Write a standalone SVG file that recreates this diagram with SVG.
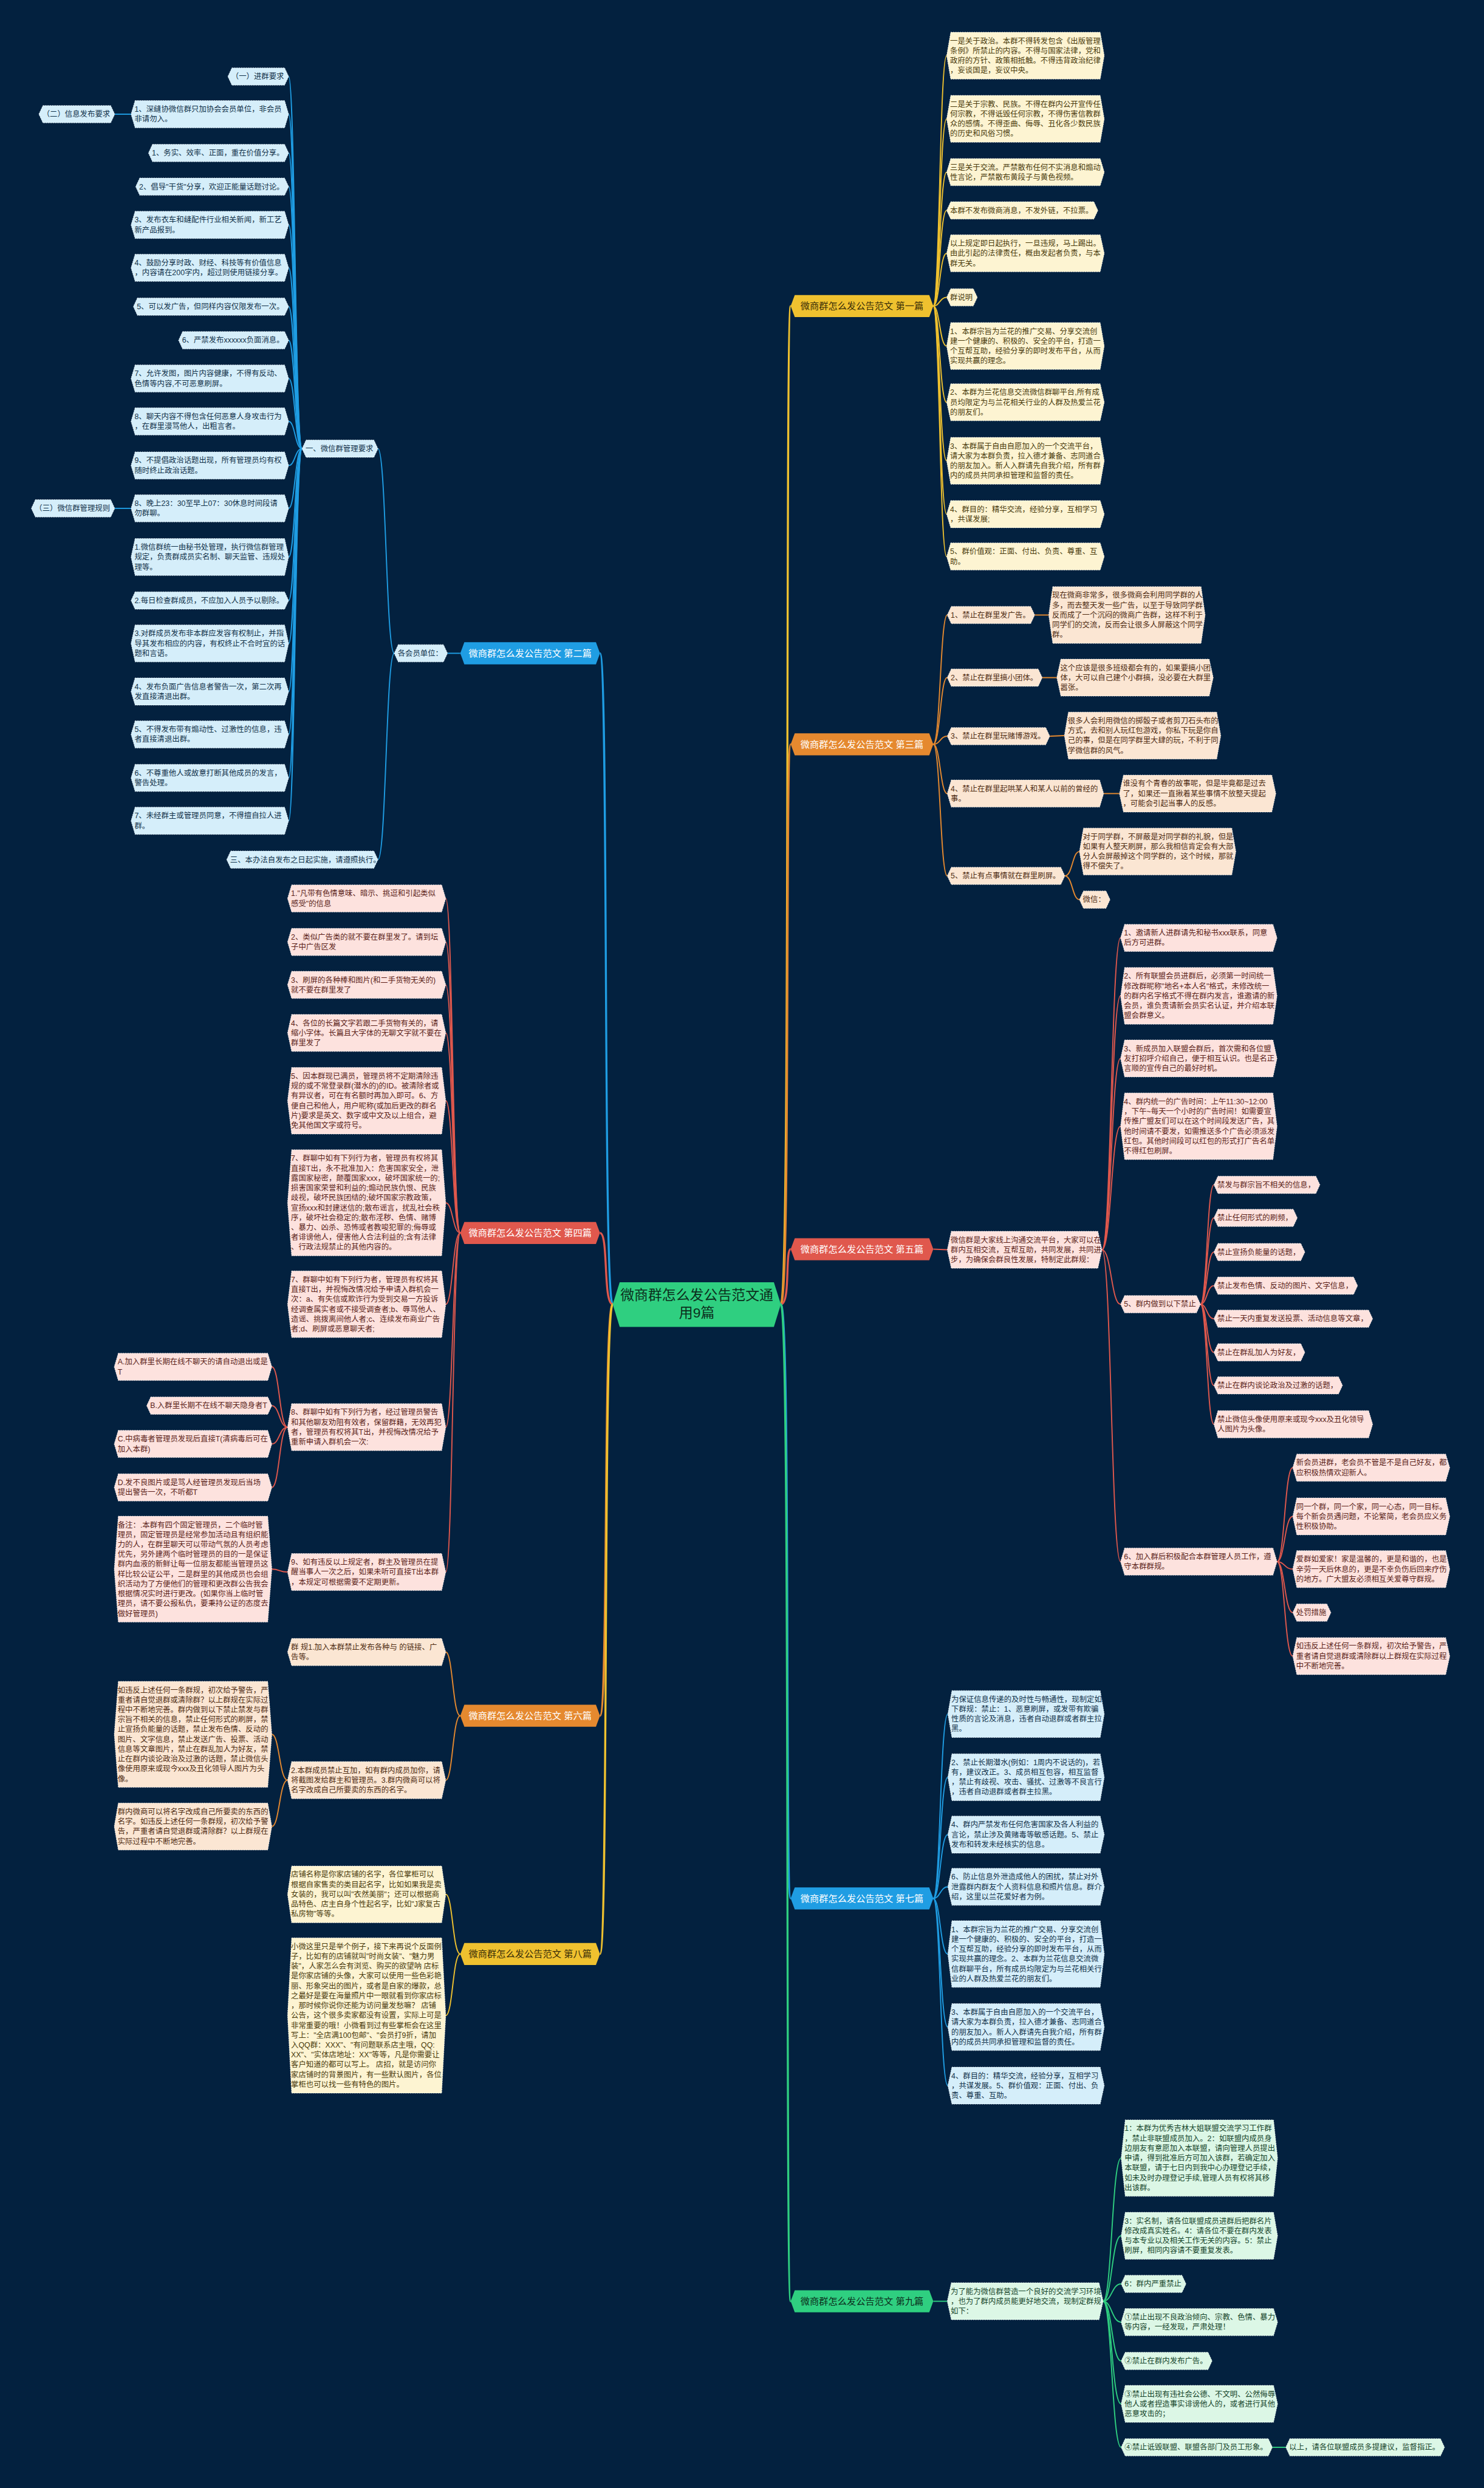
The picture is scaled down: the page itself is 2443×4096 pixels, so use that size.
<svg xmlns="http://www.w3.org/2000/svg" width="2443" height="4096" viewBox="0 0 2443 4096">
<style>
.t{font-family:"Liberation Sans","Noto Sans CJK SC",sans-serif;font-size:13px}
.bt{font-family:"Liberation Sans","Noto Sans CJK SC",sans-serif;font-size:16px;text-anchor:middle}
.ct{font-family:"Liberation Sans","Noto Sans CJK SC",sans-serif;font-size:24px;text-anchor:middle;fill:#0b2e1c}
.pb{fill:#d5eefa;stroke:#ffffff;stroke-opacity:.7;stroke-width:1;stroke-dasharray:2 2}
.pr{fill:#fde2de;stroke:#ffffff;stroke-opacity:.7;stroke-width:1;stroke-dasharray:2 2}
.po{fill:#fbe6d3;stroke:#ffffff;stroke-opacity:.7;stroke-width:1;stroke-dasharray:2 2}
.py{fill:#fdf4d2;stroke:#ffffff;stroke-opacity:.7;stroke-width:1;stroke-dasharray:2 2}
.pg{fill:#dcf7e6;stroke:#ffffff;stroke-opacity:.7;stroke-width:1;stroke-dasharray:2 2}
.cb{fill:#12324a}.cr{fill:#5c1f19}.co{fill:#4f2c12}.cy{fill:#4a3b0c}.cg{fill:#16452b}
.e{fill:none;stroke-width:2}
.m{fill:none;stroke-width:3.5}
.eb{stroke:#1f9de3}.er{stroke:#e0584d}.eo{stroke:#e5892f}.ey{stroke:#efc12f}.eg{stroke:#2fcf80}
</style>
<rect width="2443" height="4096" fill="#03213f"/>
<g transform="scale(0.9543)">
<g id="connectors">
<path class="m eb" d="M1057,2250 C1040,2250 1050,1127 1035,1127"/>
<path class="m er" d="M1057,2250 C1040,2250 1050,2127 1035,2127"/>
<path class="m eo" d="M1057,2250 C1040,2250 1050,2960 1035,2960"/>
<path class="m ey" d="M1057,2250 C1040,2250 1050,3371 1035,3371"/>
<path class="m ey" d="M1347,2250 C1364,2250 1354,528 1364,528"/>
<path class="m eo" d="M1347,2250 C1364,2250 1354,1284 1364,1284"/>
<path class="m er" d="M1347,2250 C1364,2250 1354,2155 1364,2155"/>
<path class="m eb" d="M1347,2250 C1364,2250 1354,3275 1364,3275"/>
<path class="m eg" d="M1347,2250 C1364,2250 1354,3970 1364,3970"/>
<path class="e eb" d="M794,1127 L772,1127"/>
<path class="e eb" d="M680,1127 C666,1127 666,774 652,774"/>
<path class="e eb" d="M680,1127 C666,1127 666,1483 652,1483"/>
<path class="e eb" d="M521,774 C509,774 509,132 498,132"/>
<path class="e eb" d="M521,774 C509,774 509,197 498,197"/>
<path class="e eb" d="M521,774 C509,774 509,264 498,264"/>
<path class="e eb" d="M521,774 C509,774 509,322 498,322"/>
<path class="e eb" d="M521,774 C509,774 509,388 498,388"/>
<path class="e eb" d="M521,774 C509,774 509,462 498,462"/>
<path class="e eb" d="M521,774 C509,774 509,529 498,529"/>
<path class="e eb" d="M521,774 C509,774 509,587 498,587"/>
<path class="e eb" d="M521,774 C509,774 509,653 498,653"/>
<path class="e eb" d="M521,774 C509,774 509,727 498,727"/>
<path class="e eb" d="M521,774 C509,774 509,803 498,803"/>
<path class="e eb" d="M521,774 C509,774 509,877 498,877"/>
<path class="e eb" d="M521,774 C509,774 509,961 498,961"/>
<path class="e eb" d="M521,774 C509,774 509,1036 498,1036"/>
<path class="e eb" d="M521,774 C509,774 509,1110 498,1110"/>
<path class="e eb" d="M521,774 C509,774 509,1193 498,1193"/>
<path class="e eb" d="M521,774 C509,774 509,1267 498,1267"/>
<path class="e eb" d="M521,774 C509,774 509,1342 498,1342"/>
<path class="e eb" d="M521,774 C509,774 509,1416 498,1416"/>
<path class="e eb" d="M226,197 L198,197"/>
<path class="e eb" d="M226,877 L198,877"/>
<path class="e er" d="M794,2127 C781,2127 781,1550 769,1550"/>
<path class="e er" d="M794,2127 C781,2127 781,1625 769,1625"/>
<path class="e er" d="M794,2127 C781,2127 781,1699 769,1699"/>
<path class="e er" d="M794,2127 C781,2127 781,1782 769,1782"/>
<path class="e er" d="M794,2127 C781,2127 781,1899 769,1899"/>
<path class="e er" d="M794,2127 C781,2127 781,2075 769,2075"/>
<path class="e er" d="M794,2127 C781,2127 781,2250 769,2250"/>
<path class="e er" d="M794,2127 C781,2127 781,2462 769,2462"/>
<path class="e er" d="M794,2127 C781,2127 781,2712 769,2712"/>
<path class="e er" d="M496,2462 C482,2462 482,2358 469,2358"/>
<path class="e er" d="M496,2462 C482,2462 482,2425 469,2425"/>
<path class="e er" d="M496,2462 C482,2462 482,2491 469,2491"/>
<path class="e er" d="M496,2462 C482,2462 482,2566 469,2566"/>
<path class="e er" d="M496,2712 C482,2712 482,2707 469,2707"/>
<path class="e eo" d="M794,2960 C781,2960 781,2850 769,2850"/>
<path class="e eo" d="M794,2960 C781,2960 781,3071 769,3071"/>
<path class="e eo" d="M496,3071 C482,3071 482,2992 469,2992"/>
<path class="e eo" d="M496,3071 C482,3071 482,3151 469,3151"/>
<path class="e ey" d="M794,3371 C781,3371 781,3268 769,3268"/>
<path class="e ey" d="M794,3371 C781,3371 781,3477 769,3477"/>
<path class="e ey" d="M1610,528 C1621,528 1621,96 1633,96"/>
<path class="e ey" d="M1610,528 C1621,528 1621,205 1633,205"/>
<path class="e ey" d="M1610,528 C1621,528 1621,297 1633,297"/>
<path class="e ey" d="M1610,528 C1621,528 1621,363 1633,363"/>
<path class="e ey" d="M1610,528 C1621,528 1621,437 1633,437"/>
<path class="e ey" d="M1610,528 C1621,528 1621,513 1633,513"/>
<path class="e ey" d="M1610,528 C1621,528 1621,597 1633,597"/>
<path class="e ey" d="M1610,528 C1621,528 1621,694 1633,694"/>
<path class="e ey" d="M1610,528 C1621,528 1621,795 1633,795"/>
<path class="e ey" d="M1610,528 C1621,528 1621,887 1633,887"/>
<path class="e ey" d="M1610,528 C1621,528 1621,960 1633,960"/>
<path class="e eo" d="M1610,1284 C1622,1284 1622,1061 1634,1061"/>
<path class="e eo" d="M1610,1284 C1622,1284 1622,1169 1634,1169"/>
<path class="e eo" d="M1610,1284 C1622,1284 1622,1270 1634,1270"/>
<path class="e eo" d="M1610,1284 C1622,1284 1622,1369 1634,1369"/>
<path class="e eo" d="M1610,1284 C1622,1284 1622,1511 1634,1511"/>
<path class="e eo" d="M1785,1061 L1809,1061"/>
<path class="e eo" d="M1798,1169 L1823,1169"/>
<path class="e eo" d="M1811,1270 L1836,1269"/>
<path class="e eo" d="M1904,1369 L1931,1369"/>
<path class="e eo" d="M1837,1511 C1850,1511 1850,1469 1862,1469"/>
<path class="e eo" d="M1837,1511 C1850,1511 1850,1552 1862,1552"/>
<path class="e er" d="M1610,2155 L1634,2156"/>
<path class="e er" d="M1901,2156 C1917,2156 1917,1618 1933,1618"/>
<path class="e er" d="M1901,2156 C1917,2156 1917,1718 1933,1718"/>
<path class="e er" d="M1901,2156 C1917,2156 1917,1826 1933,1826"/>
<path class="e er" d="M1901,2156 C1917,2156 1917,1943 1933,1943"/>
<path class="e er" d="M1901,2156 C1917,2156 1917,2250 1933,2250"/>
<path class="e er" d="M1901,2156 C1917,2156 1917,2694 1933,2694"/>
<path class="e er" d="M2071,2250 C2082,2250 2082,2044 2094,2044"/>
<path class="e er" d="M2071,2250 C2082,2250 2082,2101 2094,2101"/>
<path class="e er" d="M2071,2250 C2082,2250 2082,2160 2094,2160"/>
<path class="e er" d="M2071,2250 C2082,2250 2082,2218 2094,2218"/>
<path class="e er" d="M2071,2250 C2082,2250 2082,2275 2094,2275"/>
<path class="e er" d="M2071,2250 C2082,2250 2082,2333 2094,2333"/>
<path class="e er" d="M2071,2250 C2082,2250 2082,2390 2094,2390"/>
<path class="e er" d="M2071,2250 C2082,2250 2082,2457 2094,2457"/>
<path class="e er" d="M2203,2694 C2216,2694 2216,2532 2230,2532"/>
<path class="e er" d="M2203,2694 C2216,2694 2216,2616 2230,2616"/>
<path class="e er" d="M2203,2694 C2216,2694 2216,2707 2230,2707"/>
<path class="e er" d="M2203,2694 C2216,2694 2216,2782 2230,2782"/>
<path class="e er" d="M2203,2694 C2216,2694 2216,2857 2230,2857"/>
<path class="e eb" d="M1610,3275 C1622,3275 1622,2957 1635,2957"/>
<path class="e eb" d="M1610,3275 C1622,3275 1622,3066 1635,3066"/>
<path class="e eb" d="M1610,3275 C1622,3275 1622,3165 1635,3165"/>
<path class="e eb" d="M1610,3275 C1622,3275 1622,3255 1635,3255"/>
<path class="e eb" d="M1610,3275 C1622,3275 1622,3371 1635,3371"/>
<path class="e eb" d="M1610,3275 C1622,3275 1622,3497 1635,3497"/>
<path class="e eb" d="M1610,3275 C1622,3275 1622,3598 1635,3598"/>
<path class="e eg" d="M1610,3970 L1634,3970"/>
<path class="e eg" d="M1903,3970 C1918,3970 1918,3723 1934,3723"/>
<path class="e eg" d="M1903,3970 C1918,3970 1918,3857 1934,3857"/>
<path class="e eg" d="M1903,3970 C1918,3970 1918,3940 1934,3940"/>
<path class="e eg" d="M1903,3970 C1918,3970 1918,4006 1934,4006"/>
<path class="e eg" d="M1903,3970 C1918,3970 1918,4073 1934,4073"/>
<path class="e eg" d="M1903,3970 C1918,3970 1918,4147 1934,4147"/>
<path class="e eg" d="M1903,3970 C1918,3970 1918,4222 1934,4222"/>
<path class="e eg" d="M2195,4222 L2218,4222"/>
</g>

<g id="center"><polygon points="1069,2212 1335,2212 1347,2250 1335,2289 1069,2289 1057,2250" fill="#2fcf80"/><text class="ct" x="1202" y="2243">微商群怎么发公告范文通</text><text class="ct" x="1202" y="2273">用9篇</text></g>

<g id="b2"><polygon points="801,1108 1028,1108 1035,1127 1028,1146 801,1146 794,1127" fill="#1f9de3"/><text class="bt" x="914.5" y="1132.5" fill="#ffffff">微商群怎么发公告范文 第二篇</text></g>
<g id="b4"><polygon points="801,2108 1028,2108 1035,2127 1028,2146 801,2146 794,2127" fill="#e0584d"/><text class="bt" x="914.5" y="2132.5" fill="#ffffff">微商群怎么发公告范文 第四篇</text></g>
<g id="b6"><polygon points="801,2941 1028,2941 1035,2960 1028,2979 801,2979 794,2960" fill="#e5892f"/><text class="bt" x="914.5" y="2965.5" fill="#ffffff">微商群怎么发公告范文 第六篇</text></g>
<g id="b8"><polygon points="801,3352 1028,3352 1035,3371 1028,3390 801,3390 794,3371" fill="#efc12f"/><text class="bt" x="914.5" y="3376.5" fill="#3a2e08">微商群怎么发公告范文 第八篇</text></g>
<g id="b1"><polygon points="1371,509 1603,509 1610,528 1603,547 1371,547 1364,528" fill="#efc12f"/><text class="bt" x="1487" y="533.5" fill="#3a2e08">微商群怎么发公告范文 第一篇</text></g>
<g id="b3"><polygon points="1371,1265 1603,1265 1610,1284 1603,1303 1371,1303 1364,1284" fill="#e5892f"/><text class="bt" x="1487" y="1289.5" fill="#ffffff">微商群怎么发公告范文 第三篇</text></g>
<g id="b5"><polygon points="1371,2136 1603,2136 1610,2155 1603,2174 1371,2174 1364,2155" fill="#e0584d"/><text class="bt" x="1487" y="2160.5" fill="#ffffff">微商群怎么发公告范文 第五篇</text></g>
<g id="b7"><polygon points="1371,3256 1603,3256 1610,3275 1603,3294 1371,3294 1364,3275" fill="#1f9de3"/><text class="bt" x="1487" y="3280.5" fill="#ffffff">微商群怎么发公告范文 第七篇</text></g>
<g id="b9"><polygon points="1371,3951 1603,3951 1610,3970 1603,3989 1371,3989 1364,3970" fill="#2fcf80"/><text class="bt" x="1487" y="3975.5" fill="#0b2e1c">微商群怎么发公告范文 第九篇</text></g>

<g id="n2a"><polygon class="pb" points="687,1112 765,1112 772,1127 765,1142 687,1142 680,1127"/><text class="t cb" x="686" y="1131.5">各会员单位：</text></g>
<g id="n2b"><polygon class="pb" points="528,759 645,759 652,774 645,789 528,789 521,774"/><text class="t cb" x="527" y="778.5">一、微信群管理要求</text></g>
<g id="n2c"><polygon class="pb" points="398,1468 645,1468 652,1483 645,1498 398,1498 391,1483"/><text class="t cb" x="397" y="1487.5">三、本办法自发布之日起实施，请遵照执行。</text></g>
<g id="l1"><polygon class="pb" points="400,117 491,117 498,132 491,147 400,147 393,132"/><text class="t cb" x="399" y="136.5">（一）进群要求</text></g>
<g id="l2"><polygon class="pb" points="233,173.5 491,173.5 498,197 491,220.5 233,220.5 226,197"/><text class="t cb" y="193"><tspan x="232">1、深缝协微信群只加协会会员单位，非会员</tspan><tspan x="232" dy="17">非请勿入。</tspan></text></g>
<g id="l2c"><polygon class="pb" points="74,182 191,182 198,197 191,212 74,212 67,197"/><text class="t cb" x="73" y="201.5">（二）信息发布要求</text></g>
<g id="l3"><polygon class="pb" points="263,249 491,249 498,264 491,279 263,279 256,264"/><text class="t cb" x="262" y="268.5">1、务实、效率、正面，重在价值分享。</text></g>
<g id="l4"><polygon class="pb" points="241,307 491,307 498,322 491,337 241,337 234,322"/><text class="t cb" x="240" y="326.5">2、倡导"干货"分享，欢迎正能量话题讨论。</text></g>
<g id="l5"><polygon class="pb" points="233,364.5 491,364.5 498,388 491,411.5 233,411.5 226,388"/><text class="t cb" y="384"><tspan x="232">3、发布衣车和缝配件行业相关新闻，新工艺</tspan><tspan x="232" dy="17">新产品报到。</tspan></text></g>
<g id="l6"><polygon class="pb" points="233,438.5 491,438.5 498,462 491,485.5 233,485.5 226,462"/><text class="t cb" y="458"><tspan x="232">4、鼓励分享时政、财经、科技等有价值信息</tspan><tspan x="232" dy="17">，内容请在200字内，超过则使用链接分享。</tspan></text></g>
<g id="l7"><polygon class="pb" points="237,514 491,514 498,529 491,544 237,544 230,529"/><text class="t cb" x="236" y="533.5">5、可以发广告，但同样内容仅限发布一次。</text></g>
<g id="l8"><polygon class="pb" points="315,572 491,572 498,587 491,602 315,602 308,587"/><text class="t cb" x="314" y="591.5">6、严禁发布xxxxxx负面消息。</text></g>
<g id="l9"><polygon class="pb" points="233,629.5 491,629.5 498,653 491,676.5 233,676.5 226,653"/><text class="t cb" y="649"><tspan x="232">7、允许发图，图片内容健康，不得有反动、</tspan><tspan x="232" dy="17">色情等内容,不可恶意刷屏。</tspan></text></g>
<g id="l10"><polygon class="pb" points="233,703.5 491,703.5 498,727 491,750.5 233,750.5 226,727"/><text class="t cb" y="723"><tspan x="232">8、聊天内容不得包含任何恶意人身攻击行为</tspan><tspan x="232" dy="17">，在群里漫骂他人，出粗言者。</tspan></text></g>
<g id="l11"><polygon class="pb" points="233,779.5 491,779.5 498,803 491,826.5 233,826.5 226,803"/><text class="t cb" y="799"><tspan x="232">9、不提倡政治话题出现，所有管理员均有权</tspan><tspan x="232" dy="17">随时终止政治话题。</tspan></text></g>
<g id="l12"><polygon class="pb" points="233,853.5 491,853.5 498,877 491,900.5 233,900.5 226,877"/><text class="t cb" y="873"><tspan x="232">8、晚上23：30至早上07：30休息时间段请</tspan><tspan x="232" dy="17">勿群聊。</tspan></text></g>
<g id="l12c"><polygon class="pb" points="61,862 191,862 198,877 191,892 61,892 54,877"/><text class="t cb" x="60" y="881.5">（三）微信群管理规则</text></g>
<g id="l13"><polygon class="pb" points="233,929 491,929 498,961 491,993 233,993 226,961"/><text class="t cb" y="948.5"><tspan x="232">1.微信群统一由秘书处管理，执行微信群管理</tspan><tspan x="232" dy="17">规定，负责群成员实名制、聊天监管、违规处</tspan><tspan x="232" dy="17">理等。</tspan></text></g>
<g id="l14"><polygon class="pb" points="233,1021 491,1021 498,1036 491,1051 233,1051 226,1036"/><text class="t cb" x="232" y="1040.5">2.每日检查群成员，不应加入人员予以剔除。</text></g>
<g id="l15"><polygon class="pb" points="233,1078 491,1078 498,1110 491,1142 233,1142 226,1110"/><text class="t cb" y="1097.5"><tspan x="232">3.对群成员发布非本群应发容有权制止，并指</tspan><tspan x="232" dy="17">导其发布相应的内容，有权终止不合时宜的话</tspan><tspan x="232" dy="17">题和言语。</tspan></text></g>
<g id="l16"><polygon class="pb" points="233,1169.5 491,1169.5 498,1193 491,1216.5 233,1216.5 226,1193"/><text class="t cb" y="1189"><tspan x="232">4、发布负面广告信息者警告一次，第二次再</tspan><tspan x="232" dy="17">发直接清退出群。</tspan></text></g>
<g id="l17"><polygon class="pb" points="233,1243.5 491,1243.5 498,1267 491,1290.5 233,1290.5 226,1267"/><text class="t cb" y="1263"><tspan x="232">5、不得发布带有煽动性、过激性的信息，违</tspan><tspan x="232" dy="17">者直接清退出群。</tspan></text></g>
<g id="l18"><polygon class="pb" points="233,1318.5 491,1318.5 498,1342 491,1365.5 233,1365.5 226,1342"/><text class="t cb" y="1338"><tspan x="232">6、不尊重他人或故意打断其他成员的发言，</tspan><tspan x="232" dy="17">警告处理。</tspan></text></g>
<g id="l19"><polygon class="pb" points="233,1392.5 491,1392.5 498,1416 491,1439.5 233,1439.5 226,1416"/><text class="t cb" y="1412"><tspan x="232">7、未经群主或管理员同意，不得擅自拉人进</tspan><tspan x="232" dy="17">群。</tspan></text></g>

<g id="r1"><polygon class="pr" points="503,1526.5 762,1526.5 769,1550 762,1573.5 503,1573.5 496,1550"/><text class="t cr" y="1546"><tspan x="502">1."凡带有色情意味、暗示、挑逗和引起类似</tspan><tspan x="502" dy="17">感受"的信息</tspan></text></g>
<g id="r2"><polygon class="pr" points="503,1601.5 762,1601.5 769,1625 762,1648.5 503,1648.5 496,1625"/><text class="t cr" y="1621"><tspan x="502">2、类似广告类的就不要在群里发了。请到坛</tspan><tspan x="502" dy="17">子中广告区发</tspan></text></g>
<g id="r3"><polygon class="pr" points="503,1675.5 762,1675.5 769,1699 762,1722.5 503,1722.5 496,1699"/><text class="t cr" y="1695"><tspan x="502">3、刷屏的各种棒和图片(和二手货物无关的)</tspan><tspan x="502" dy="17">就不要在群里发了</tspan></text></g>
<g id="r4"><polygon class="pr" points="503,1750 762,1750 769,1782 762,1814 503,1814 496,1782"/><text class="t cr" y="1769.5"><tspan x="502">4、各位的长篇文字若跟二手货物有关的，请</tspan><tspan x="502" dy="17">缩小字体。长篇且大字体的无聊文字就不要在</tspan><tspan x="502" dy="17">群里发了</tspan></text></g>
<g id="r5"><polygon class="pr" points="503,1841.5 762,1841.5 769,1899 762,1956.5 503,1956.5 496,1899"/><text class="t cr" y="1861"><tspan x="502">5、因本群现已满员，管理员将不定期清除违</tspan><tspan x="502" dy="17">规的或不常登录群(潜水的)的ID。被清除者或</tspan><tspan x="502" dy="17">有异议者，可在有名额时再加入即可。6、方</tspan><tspan x="502" dy="17">便自己和他人，用户昵称(或加后更改的群名</tspan><tspan x="502" dy="17">片)要求是英文、数字或中文及以上组合，避</tspan><tspan x="502" dy="17">免其他国文字或符号。</tspan></text></g>
<g id="r6"><polygon class="pr" points="503,1983.5 762,1983.5 769,2075 762,2166.5 503,2166.5 496,2075"/><text class="t cr" y="2003"><tspan x="502">7、群聊中如有下列行为者，管理员有权将其</tspan><tspan x="502" dy="17">直接T出，永不批准加入：危害国家安全，泄</tspan><tspan x="502" dy="17">露国家秘密，颠覆国家xxx，破坏国家统一的;</tspan><tspan x="502" dy="17">损害国家荣誉和利益的;煽动民族仇恨、民族</tspan><tspan x="502" dy="17">歧视，破坏民族团结的;破坏国家宗教政策，</tspan><tspan x="502" dy="17">宣扬xxx和封建迷信的;散布谣言，扰乱社会秩</tspan><tspan x="502" dy="17">序，破坏社会稳定的;散布淫秽、色情、赌博</tspan><tspan x="502" dy="17">、暴力、凶杀、恐怖或者教唆犯罪的;侮辱或</tspan><tspan x="502" dy="17">者诽谤他人，侵害他人合法利益的;含有法律</tspan><tspan x="502" dy="17">、行政法规禁止的其他内容的。</tspan></text></g>
<g id="r7"><polygon class="pr" points="503,2192.5 762,2192.5 769,2250 762,2307.5 503,2307.5 496,2250"/><text class="t cr" y="2212"><tspan x="502">7、群聊中如有下列行为者，管理员有权将其</tspan><tspan x="502" dy="17">直接T出，并视悔改情况给予申请入群机会一</tspan><tspan x="502" dy="17">次：a、有失信或欺诈行为受到交易一方投诉</tspan><tspan x="502" dy="17">经调查属实者或不接受调查者;b、辱骂他人、</tspan><tspan x="502" dy="17">造谣、挑拨离间他人者;c、连续发布商业广告</tspan><tspan x="502" dy="17">者;d、刷屏或恶意聊天者;</tspan></text></g>
<g id="r8"><polygon class="pr" points="503,2421.5 762,2421.5 769,2462 762,2502.5 503,2502.5 496,2462"/><text class="t cr" y="2441"><tspan x="502">8、群聊中如有下列行为者，经过管理员警告</tspan><tspan x="502" dy="17">和其他聊友劝阻有效者，保留群籍，无效再犯</tspan><tspan x="502" dy="17">者，管理员有权将其T出，并视悔改情况给予</tspan><tspan x="502" dy="17">重新申请入群机会一次:</tspan></text></g>
<g id="r8a"><polygon class="pr" points="204,2334.5 462,2334.5 469,2358 462,2381.5 204,2381.5 197,2358"/><text class="t cr" y="2354"><tspan x="203">A.加入群里长期在线不聊天的请自动退出或是</tspan><tspan x="203" dy="17">T</tspan></text></g>
<g id="r8b"><polygon class="pr" points="260,2410 462,2410 469,2425 462,2440 260,2440 253,2425"/><text class="t cr" x="259" y="2429.5">B.入群里长期不在线不聊天隐身者T</text></g>
<g id="r8c"><polygon class="pr" points="204,2467.5 462,2467.5 469,2491 462,2514.5 204,2514.5 197,2491"/><text class="t cr" y="2487"><tspan x="203">C.中病毒者管理员发现后直接T(清病毒后可在</tspan><tspan x="203" dy="17">加入本群)</tspan></text></g>
<g id="r8d"><polygon class="pr" points="204,2542.5 462,2542.5 469,2566 462,2589.5 204,2589.5 197,2566"/><text class="t cr" y="2562"><tspan x="203">D.发不良图片或是骂人经管理员发现后当场</tspan><tspan x="203" dy="17">提出警告一次，不听都T</tspan></text></g>
<g id="r9"><polygon class="pr" points="503,2680 762,2680 769,2712 762,2744 503,2744 496,2712"/><text class="t cr" y="2699.5"><tspan x="502">9、如有违反以上规定者，群主及管理员在提</tspan><tspan x="502" dy="17">醒当事人一次之后，如果未听可直接T出本群</tspan><tspan x="502" dy="17">，本规定可根据需要不定期更新。</tspan></text></g>
<g id="r9a"><polygon class="pr" points="204,2615.5 462,2615.5 469,2707 462,2798.5 204,2798.5 197,2707"/><text class="t cr" y="2635"><tspan x="203">备注：.本群有四个固定管理员，二个临时管</tspan><tspan x="203" dy="17">理员，固定管理员是经常参加活动且有组织能</tspan><tspan x="203" dy="17">力的人，在群里聊天可以带动气氛的人员考虑</tspan><tspan x="203" dy="17">优先，另外建两个临时管理员的目的一是保证</tspan><tspan x="203" dy="17">群内血液的新鲜让每一位朋友都能当管理员这</tspan><tspan x="203" dy="17">样比较公证公平，二是群里的其他成员也会组</tspan><tspan x="203" dy="17">织活动为了方便他们的管理和更改群公告我会</tspan><tspan x="203" dy="17">根据情况实时进行更改。(如果你当上临时管</tspan><tspan x="203" dy="17">理员，请不要公报私仇，要秉持公证的态度去</tspan><tspan x="203" dy="17">做好管理员)</tspan></text></g>

<g id="o1"><polygon class="po" points="503,2826.5 762,2826.5 769,2850 762,2873.5 503,2873.5 496,2850"/><text class="t co" y="2846"><tspan x="502"> 群 规1.加入本群禁止发布各种与 的链接、广</tspan><tspan x="502" dy="17">告等。</tspan></text></g>
<g id="o2"><polygon class="po" points="503,3039 762,3039 769,3071 762,3103 503,3103 496,3071"/><text class="t co" y="3058.5"><tspan x="502">2.本群成员禁止互加，如有群内成员加你，请</tspan><tspan x="502" dy="17">将截图发给群主和管理员。3.群内微商可以将</tspan><tspan x="502" dy="17">名字改成自己所要卖的东西的名字。</tspan></text></g>
<g id="o2a"><polygon class="po" points="204,2900.5 462,2900.5 469,2992 462,3083.5 204,3083.5 197,2992"/><text class="t co" y="2920"><tspan x="203">如违反上述任何一条群规，初次给予警告，严</tspan><tspan x="203" dy="17">重者请自觉退群或清除群？以上群规在实际过</tspan><tspan x="203" dy="17">程中不断地完善。群内做到以下禁止禁发与群</tspan><tspan x="203" dy="17">宗旨不相关的信息，禁止任何形式的刷屏，禁</tspan><tspan x="203" dy="17">止宣扬负能量的话题，禁止发布色情、反动的</tspan><tspan x="203" dy="17">图片、文字信息，禁止发送广告、投票、活动</tspan><tspan x="203" dy="17">信息等文章图片，禁止在群乱加人为好友，禁</tspan><tspan x="203" dy="17">止在群内谈论政治及过激的话题，禁止微信头</tspan><tspan x="203" dy="17">像使用原来或现今xxx及丑化领导人图片为头</tspan><tspan x="203" dy="17">像。</tspan></text></g>
<g id="o2b"><polygon class="po" points="204,3110.5 462,3110.5 469,3151 462,3191.5 204,3191.5 197,3151"/><text class="t co" y="3130"><tspan x="203">群内微商可以将名字改成自己所要卖的东西的</tspan><tspan x="203" dy="17">名字。如违反上述任何一条群规，初次给予警</tspan><tspan x="203" dy="17">告，严重者请自觉退群或清除群？以上群规在</tspan><tspan x="203" dy="17">实际过程中不断地完善。</tspan></text></g>

<g id="y1"><polygon class="py" points="503,3219 762,3219 769,3268 762,3317 503,3317 496,3268"/><text class="t cy" y="3238.5"><tspan x="502"> 店铺名称是你家店铺的名字，各位掌柜可以</tspan><tspan x="502" dy="17">根据自家售卖的类目起名字，比如如果我是卖</tspan><tspan x="502" dy="17">女装的，我可以叫"衣然美丽"；还可以根据商</tspan><tspan x="502" dy="17">品特色、店主自身个性起名字，比如"J家复古</tspan><tspan x="502" dy="17">私房物"等等。</tspan></text></g>
<g id="y2"><polygon class="py" points="503,3343 762,3343 769,3477 762,3611 503,3611 496,3477"/><text class="t cy" y="3362.5"><tspan x="502">小微这里只是举个例子，接下来再说个反面例</tspan><tspan x="502" dy="17">子，比如有的店铺就叫"时尚女装"、"魅力男</tspan><tspan x="502" dy="17">装"，人家怎么会有浏览、购买的欲望呐 店标</tspan><tspan x="502" dy="17">是你家店铺的头像，大家可以使用一些色彩艳</tspan><tspan x="502" dy="17">丽、形象突出的图片，或者是自家的爆款，总</tspan><tspan x="502" dy="17">之最好是要在海量照片中一眼就看到你家店标</tspan><tspan x="502" dy="17">，那时候你说你还能为访问量发愁嘛？ 店铺</tspan><tspan x="502" dy="17">公告，这个很多卖家都没有设置，实际上可是</tspan><tspan x="502" dy="17">非常重要的哦！小微看到过有些掌柜会在这里</tspan><tspan x="502" dy="17">写上："全店满100包邮"、"会员打9折，请加</tspan><tspan x="502" dy="17">入QQ群：XXX"、"有问题联系店主哦，QQ:</tspan><tspan x="502" dy="17">XX"、"实体店地址：XX"等等，凡是你需要让</tspan><tspan x="502" dy="17">客户知道的都可以写上。 店招，就是访问你</tspan><tspan x="502" dy="17">家店铺时的背景图片，有一些默认图片，各位</tspan><tspan x="502" dy="17">掌柜也可以找一些有特色的图片。</tspan></text></g>

<g id="a1"><polygon class="py" points="1640,55.5 1898,55.5 1905,96 1898,136.5 1640,136.5 1633,96"/><text class="t cy" y="75"><tspan x="1639">一是关于政治。本群不得转发包含《出版管理</tspan><tspan x="1639" dy="17">条例》所禁止的内容。不得与国家法律，党和</tspan><tspan x="1639" dy="17">政府的方针、政策相抵触。不得违背政治纪律</tspan><tspan x="1639" dy="17">，妄谈国是，妄议中央。</tspan></text></g>
<g id="a2"><polygon class="py" points="1640,164.5 1898,164.5 1905,205 1898,245.5 1640,245.5 1633,205"/><text class="t cy" y="184"><tspan x="1639">二是关于宗教、民族。不得在群内公开宣传任</tspan><tspan x="1639" dy="17">何宗教，不得诋毁任何宗教，不得伤害信教群</tspan><tspan x="1639" dy="17">众的感情。不得歪曲、侮辱、丑化各少数民族</tspan><tspan x="1639" dy="17">的历史和风俗习惯。</tspan></text></g>
<g id="a3"><polygon class="py" points="1640,273.5 1898,273.5 1905,297 1898,320.5 1640,320.5 1633,297"/><text class="t cy" y="293"><tspan x="1639">三是关于交流。严禁散布任何不实消息和煽动</tspan><tspan x="1639" dy="17">性言论，严禁散布黄段子与黄色视频。</tspan></text></g>
<g id="a4"><polygon class="py" points="1640,348 1887,348 1894,363 1887,378 1640,378 1633,363"/><text class="t cy" x="1639" y="367.5">本群不发布微商消息，不发外链，不拉票。</text></g>
<g id="a5"><polygon class="py" points="1640,405 1898,405 1905,437 1898,469 1640,469 1633,437"/><text class="t cy" y="424.5"><tspan x="1639">以上规定即日起执行，一旦违规，马上踢出。</tspan><tspan x="1639" dy="17">由此引起的法律责任，概由发起者负责，与本</tspan><tspan x="1639" dy="17">群无关。</tspan></text></g>
<g id="a6"><polygon class="py" points="1640,498 1679,498 1686,513 1679,528 1640,528 1633,513"/><text class="t cy" x="1639" y="517.5">群说明</text></g>
<g id="a7"><polygon class="py" points="1640,556.5 1898,556.5 1905,597 1898,637.5 1640,637.5 1633,597"/><text class="t cy" y="576"><tspan x="1639">1、本群宗旨为兰花的推广交易、分享交流创</tspan><tspan x="1639" dy="17">建一个健康的、积极的、安全的平台，打造一</tspan><tspan x="1639" dy="17">个互帮互助，经验分享的即时发布平台，从而</tspan><tspan x="1639" dy="17">实现共赢的理念。</tspan></text></g>
<g id="a8"><polygon class="py" points="1640,662 1898,662 1905,694 1898,726 1640,726 1633,694"/><text class="t cy" y="681.5"><tspan x="1639">2、本群为兰花信息交流微信群聊平台,所有成</tspan><tspan x="1639" dy="17">员均限定为与兰花相关行业的人群及热爱兰花</tspan><tspan x="1639" dy="17">的朋友们。</tspan></text></g>
<g id="a9"><polygon class="py" points="1640,754.5 1898,754.5 1905,795 1898,835.5 1640,835.5 1633,795"/><text class="t cy" y="774"><tspan x="1639">3、本群属于自由自愿加入的一个交流平台，</tspan><tspan x="1639" dy="17">请大家为本群负责，拉入德才兼备、志同道合</tspan><tspan x="1639" dy="17">的朋友加入。新人入群请先自我介绍，所有群</tspan><tspan x="1639" dy="17">内的成员共同承担管理和监督的责任。</tspan></text></g>
<g id="a10"><polygon class="py" points="1640,863.5 1898,863.5 1905,887 1898,910.5 1640,910.5 1633,887"/><text class="t cy" y="883"><tspan x="1639">4、群目的：精华交流，经验分享，互相学习</tspan><tspan x="1639" dy="17">，共谋发展;</tspan></text></g>
<g id="a11"><polygon class="py" points="1640,936.5 1898,936.5 1905,960 1898,983.5 1640,983.5 1633,960"/><text class="t cy" y="956"><tspan x="1639">5、群价值观：正面、付出、负责、尊重、互</tspan><tspan x="1639" dy="17">助。</tspan></text></g>

<g id="c1"><polygon class="po" points="1641,1046 1778,1046 1785,1061 1778,1076 1641,1076 1634,1061"/><text class="t co" x="1640" y="1065.5">1、禁止在群里发广告。</text></g>
<g id="c1a"><polygon class="po" points="1816,1012 2072,1012 2079,1061 2072,1110 1816,1110 1809,1061"/><text class="t co" y="1031.5"><tspan x="1815">现在微商非常多，很多微商会利用同学群的人</tspan><tspan x="1815" dy="17">多，而去整天发一些广告，以至于导致同学群</tspan><tspan x="1815" dy="17">反而成了一个沉闷的微商广告群，这样不利于</tspan><tspan x="1815" dy="17">同学们的交流，反而会让很多人屏蔽这个同学</tspan><tspan x="1815" dy="17">群。</tspan></text></g>
<g id="c2"><polygon class="po" points="1641,1154 1791,1154 1798,1169 1791,1184 1641,1184 1634,1169"/><text class="t co" x="1640" y="1173.5">2、禁止在群里搞小团体。</text></g>
<g id="c2a"><polygon class="po" points="1830,1137 2086,1137 2093,1169 2086,1201 1830,1201 1823,1169"/><text class="t co" y="1156.5"><tspan x="1829">这个应该是很多班级都会有的，如果要搞小团</tspan><tspan x="1829" dy="17">体，大可以自己建个小群搞，没必要在大群里</tspan><tspan x="1829" dy="17">嚣张。</tspan></text></g>
<g id="c3"><polygon class="po" points="1641,1255 1804,1255 1811,1270 1804,1285 1641,1285 1634,1270"/><text class="t co" x="1640" y="1274.5">3、禁止在群里玩赌博游戏。</text></g>
<g id="c3a"><polygon class="po" points="1843,1228.5 2099,1228.5 2106,1269 2099,1309.5 1843,1309.5 1836,1269"/><text class="t co" y="1248"><tspan x="1842">很多人会利用微信的掷骰子或者剪刀石头布的</tspan><tspan x="1842" dy="17">方式，去和别人玩红包游戏，你私下玩是你自</tspan><tspan x="1842" dy="17">己的事，但是在同学群里大肆的玩，不利于同</tspan><tspan x="1842" dy="17">学微信群的风气。</tspan></text></g>
<g id="c4"><polygon class="po" points="1641,1345.5 1897,1345.5 1904,1369 1897,1392.5 1641,1392.5 1634,1369"/><text class="t co" y="1365"><tspan x="1640">4、禁止在群里起哄某人和某人以前的曾经的</tspan><tspan x="1640" dy="17">事。</tspan></text></g>
<g id="c4a"><polygon class="po" points="1938,1337 2194,1337 2201,1369 2194,1401 1938,1401 1931,1369"/><text class="t co" y="1356.5"><tspan x="1937">谁没有个青春的故事呢，但是毕竟都是过去</tspan><tspan x="1937" dy="17">了，如果还一直揪着某些事情不放整天提起</tspan><tspan x="1937" dy="17">，可能会引起当事人的反感。</tspan></text></g>
<g id="c5"><polygon class="po" points="1641,1496 1830,1496 1837,1511 1830,1526 1641,1526 1634,1511"/><text class="t co" x="1640" y="1515.5">5、禁止有点事情就在群里刷屏。</text></g>
<g id="c5a"><polygon class="po" points="1869,1428.5 2125,1428.5 2132,1469 2125,1509.5 1869,1509.5 1862,1469"/><text class="t co" y="1448"><tspan x="1868">对于同学群，不屏蔽是对同学群的礼貌，但是</tspan><tspan x="1868" dy="17">如果有人整天刷屏，那么我相信肯定会有大部</tspan><tspan x="1868" dy="17">分人会屏蔽掉这个同学群的，这个时候，那就</tspan><tspan x="1868" dy="17">得不偿失了。</tspan></text></g>
<g id="c5b"><polygon class="po" points="1869,1537 1908,1537 1915,1552 1908,1567 1869,1567 1862,1552"/><text class="t co" x="1868" y="1556.5">微信：</text></g>

<g id="e0"><polygon class="pr" points="1641,2124 1894,2124 1901,2156 1894,2188 1641,2188 1634,2156"/><text class="t cr" y="2143.5"><tspan x="1640">微信群是大家线上沟通交流平台，大家可以在</tspan><tspan x="1640" dy="17">群内互相交流，互帮互助，共同发展，共同进</tspan><tspan x="1640" dy="17">步，为确保会群良性发展，特制定此群规：</tspan></text></g>
<g id="e1"><polygon class="pr" points="1940,1594.5 2196,1594.5 2203,1618 2196,1641.5 1940,1641.5 1933,1618"/><text class="t cr" y="1614"><tspan x="1939">1、邀请新人进群请先和秘书xxx联系，同意</tspan><tspan x="1939" dy="17">后方可进群。</tspan></text></g>
<g id="e2"><polygon class="pr" points="1940,1669 2196,1669 2203,1718 2196,1767 1940,1767 1933,1718"/><text class="t cr" y="1688.5"><tspan x="1939">2、所有联盟会员进群后，必须第一时间统一</tspan><tspan x="1939" dy="17">修改群昵称"地名+本人名"格式，未修改统一</tspan><tspan x="1939" dy="17">的群内名字格式不得在群内发言，谁邀请的新</tspan><tspan x="1939" dy="17">会员，谁负责请新会员实名认证，并介绍本联</tspan><tspan x="1939" dy="17">盟会群意义。</tspan></text></g>
<g id="e3"><polygon class="pr" points="1940,1794 2196,1794 2203,1826 2196,1858 1940,1858 1933,1826"/><text class="t cr" y="1813.5"><tspan x="1939">3、新成员加入联盟会群后，首次需和各位盟</tspan><tspan x="1939" dy="17">友打招呼介绍自己，便于相互认识。也是名正</tspan><tspan x="1939" dy="17">言顺的宣传自己的最好时机。</tspan></text></g>
<g id="e4"><polygon class="pr" points="1940,1885.5 2196,1885.5 2203,1943 2196,2000.5 1940,2000.5 1933,1943"/><text class="t cr" y="1905"><tspan x="1939">4、群内统一的广告时间：上午11:30~12:00</tspan><tspan x="1939" dy="17">，下午~每天一个小时的广告时间！如需要宣</tspan><tspan x="1939" dy="17">传推广盟友们可以在这个时间段发送广告，其</tspan><tspan x="1939" dy="17">他时间请不要发，如需推送多个广告必须派发</tspan><tspan x="1939" dy="17">红包。其他时间段可以红包的形式打广告名单</tspan><tspan x="1939" dy="17">不得红包刷屏。</tspan></text></g>
<g id="e5"><polygon class="pr" points="1940,2235 2064,2235 2071,2250 2064,2265 1940,2265 1933,2250"/><text class="t cr" x="1939" y="2254.5">5、群内做到以下禁止</text></g>
<g id="e5a"><polygon class="pr" points="2101,2029 2270,2029 2277,2044 2270,2059 2101,2059 2094,2044"/><text class="t cr" x="2100" y="2048.5">禁发与群宗旨不相关的信息，</text></g>
<g id="e5b"><polygon class="pr" points="2101,2086 2231,2086 2238,2101 2231,2116 2101,2116 2094,2101"/><text class="t cr" x="2100" y="2105.5">禁止任何形式的刷频，</text></g>
<g id="e5c"><polygon class="pr" points="2101,2145 2244,2145 2251,2160 2244,2175 2101,2175 2094,2160"/><text class="t cr" x="2100" y="2164.5">禁止宣扬负能量的话题，</text></g>
<g id="e5d"><polygon class="pr" points="2101,2203 2335,2203 2342,2218 2335,2233 2101,2233 2094,2218"/><text class="t cr" x="2100" y="2222.5">禁止发布色情、反动的图片、文字信息，</text></g>
<g id="e5e"><polygon class="pr" points="2101,2260 2361,2260 2368,2275 2361,2290 2101,2290 2094,2275"/><text class="t cr" x="2100" y="2279.5">禁止一天内重复发送投票、活动信息等文章，</text></g>
<g id="e5f"><polygon class="pr" points="2101,2318 2244,2318 2251,2333 2244,2348 2101,2348 2094,2333"/><text class="t cr" x="2100" y="2337.5">禁止在群乱加人为好友，</text></g>
<g id="e5g"><polygon class="pr" points="2101,2375 2309,2375 2316,2390 2309,2405 2101,2405 2094,2390"/><text class="t cr" x="2100" y="2394.5">禁止在群内谈论政治及过激的话题，</text></g>
<g id="e5h"><polygon class="pr" points="2101,2433.5 2361,2433.5 2368,2457 2361,2480.5 2101,2480.5 2094,2457"/><text class="t cr" y="2453"><tspan x="2100">禁止微信头像使用原来或现今xxx及丑化领导</tspan><tspan x="2100" dy="17">人图片为头像。</tspan></text></g>
<g id="e6"><polygon class="pr" points="1940,2670.5 2196,2670.5 2203,2694 2196,2717.5 1940,2717.5 1933,2694"/><text class="t cr" y="2690"><tspan x="1939">6、加入群后积极配合本群管理人员工作，遵</tspan><tspan x="1939" dy="17">守本群群规。</tspan></text></g>
<g id="e6a"><polygon class="pr" points="2237,2508.5 2494,2508.5 2501,2532 2494,2555.5 2237,2555.5 2230,2532"/><text class="t cr" y="2528"><tspan x="2236">新会员进群，老会员不管是不是自己好友，都</tspan><tspan x="2236" dy="17">应积极热情欢迎新人。</tspan></text></g>
<g id="e6b"><polygon class="pr" points="2237,2584 2494,2584 2501,2616 2494,2648 2237,2648 2230,2616"/><text class="t cr" y="2603.5"><tspan x="2236">同一个群，同一个家，同一心态，同一目标。</tspan><tspan x="2236" dy="17">每个新会员遇问题，不论繁简，老会员应义务</tspan><tspan x="2236" dy="17">性积极协助。</tspan></text></g>
<g id="e6c"><polygon class="pr" points="2237,2675 2494,2675 2501,2707 2494,2739 2237,2739 2230,2707"/><text class="t cr" y="2694.5"><tspan x="2236">爱群如爱家！家是温馨的，更是和谐的，也是</tspan><tspan x="2236" dy="17">辛劳一天后休息的，更是不幸负伤后回来疗伤</tspan><tspan x="2236" dy="17">的地方。广大盟友必须相互关爱尊守群规。</tspan></text></g>
<g id="e6d"><polygon class="pr" points="2237,2767 2289,2767 2296,2782 2289,2797 2237,2797 2230,2782"/><text class="t cr" x="2236" y="2786.5">处罚措施</text></g>
<g id="e6e"><polygon class="pr" points="2237,2825 2494,2825 2501,2857 2494,2889 2237,2889 2230,2857"/><text class="t cr" y="2844.5"><tspan x="2236">如违反上述任何一条群规，初次给予警告，严</tspan><tspan x="2236" dy="17">重者请自觉退群或清除群以上群规在实际过程</tspan><tspan x="2236" dy="17">中不断地完善。</tspan></text></g>

<g id="s1"><polygon class="pb" points="1642,2916.5 1898,2916.5 1905,2957 1898,2997.5 1642,2997.5 1635,2957"/><text class="t cb" y="2936"><tspan x="1641">为保证信息传递的及时性与畅通性，现制定如</tspan><tspan x="1641" dy="17">下群规：禁止：1、恶意刷屏，或发带有欺骗</tspan><tspan x="1641" dy="17">性质的言论及消息，违者自动退群或者群主拉</tspan><tspan x="1641" dy="17">黑。</tspan></text></g>
<g id="s2"><polygon class="pb" points="1642,3025.5 1898,3025.5 1905,3066 1898,3106.5 1642,3106.5 1635,3066"/><text class="t cb" y="3045"><tspan x="1641">2、禁止长期潜水(例如：1周内不说话的)，若</tspan><tspan x="1641" dy="17">有，建议改正。3、成员相互包容，相互监督</tspan><tspan x="1641" dy="17">，禁止有歧视、攻击、骚扰、过激等不良言行</tspan><tspan x="1641" dy="17">，违者自动退群或者群主拉黑。</tspan></text></g>
<g id="s3"><polygon class="pb" points="1642,3133 1898,3133 1905,3165 1898,3197 1642,3197 1635,3165"/><text class="t cb" y="3152.5"><tspan x="1641">4、群内严禁发布任何危害国家及各人利益的</tspan><tspan x="1641" dy="17">言论，禁止涉及黄赌毒等敏感话题。5、禁止</tspan><tspan x="1641" dy="17">发布和转发未经核实的信息。</tspan></text></g>
<g id="s4"><polygon class="pb" points="1642,3223 1898,3223 1905,3255 1898,3287 1642,3287 1635,3255"/><text class="t cb" y="3242.5"><tspan x="1641">6、防止信息外泄造成他人的困扰，禁止对外</tspan><tspan x="1641" dy="17">泄露群内群友个人资料信息和照片信息。群介</tspan><tspan x="1641" dy="17">绍，这里以兰花爱好者为例。</tspan></text></g>
<g id="s5"><polygon class="pb" points="1642,3313.5 1898,3313.5 1905,3371 1898,3428.5 1642,3428.5 1635,3371"/><text class="t cb" y="3333"><tspan x="1641">1、本群宗旨为兰花的推广交易、分享交流创</tspan><tspan x="1641" dy="17">建一个健康的、积极的、安全的平台，打造一</tspan><tspan x="1641" dy="17">个互帮互助，经验分享的即时发布平台，从而</tspan><tspan x="1641" dy="17">实现共赢的理念。2、本群为兰花信息交流微</tspan><tspan x="1641" dy="17">信群聊平台，所有成员均限定为与兰花相关行</tspan><tspan x="1641" dy="17">业的人群及热爱兰花的朋友们。</tspan></text></g>
<g id="s6"><polygon class="pb" points="1642,3456.5 1898,3456.5 1905,3497 1898,3537.5 1642,3537.5 1635,3497"/><text class="t cb" y="3476"><tspan x="1641">3、本群属于自由自愿加入的一个交流平台，</tspan><tspan x="1641" dy="17">请大家为本群负责，拉入德才兼备、志同道合</tspan><tspan x="1641" dy="17">的朋友加入。新人入群请先自我介绍，所有群</tspan><tspan x="1641" dy="17">内的成员共同承担管理和监督的责任。</tspan></text></g>
<g id="s7"><polygon class="pb" points="1642,3566 1898,3566 1905,3598 1898,3630 1642,3630 1635,3598"/><text class="t cb" y="3585.5"><tspan x="1641">4、群目的：精华交流，经验分享，互相学习</tspan><tspan x="1641" dy="17">，共谋发展。5、群价值观：正面、付出、负</tspan><tspan x="1641" dy="17">责、尊重、互助。</tspan></text></g>

<g id="g0"><polygon class="pg" points="1641,3938 1896,3938 1903,3970 1896,4002 1641,4002 1634,3970"/><text class="t cg" y="3957.5"><tspan x="1640">为了能为微信群营造一个良好的交流学习环境</tspan><tspan x="1640" dy="17">，也为了群内成员能更好地交流，现制定群规</tspan><tspan x="1640" dy="17">如下：</tspan></text></g>
<g id="g1"><polygon class="pg" points="1941,3657 2197,3657 2204,3723 2197,3789 1941,3789 1934,3723"/><text class="t cg" y="3676.5"><tspan x="1940">1：本群为优秀吉林大姐联盟交流学习工作群</tspan><tspan x="1940" dy="17">，禁止非联盟成员加入。2：如联盟内成员身</tspan><tspan x="1940" dy="17">边朋友有意愿加入本联盟，请向管理人员提出</tspan><tspan x="1940" dy="17">申请，得到批准后方可加入该群，若确定加入</tspan><tspan x="1940" dy="17">本联盟，请于七日内到我中心办理登记手续，</tspan><tspan x="1940" dy="17">如未及时办理登记手续,管理人员有权将其移</tspan><tspan x="1940" dy="17">出该群。</tspan></text></g>
<g id="g2"><polygon class="pg" points="1941,3816.5 2197,3816.5 2204,3857 2197,3897.5 1941,3897.5 1934,3857"/><text class="t cg" y="3836"><tspan x="1940">3：实名制，请各位联盟成员进群后把群名片</tspan><tspan x="1940" dy="17">修改成真实姓名。4：请各位不要在群内发表</tspan><tspan x="1940" dy="17">与本专业以及相关工作无关的内容。5：禁止</tspan><tspan x="1940" dy="17">刷屏，相同内容请不要重复发表。</tspan></text></g>
<g id="g3"><polygon class="pg" points="1941,3925 2039,3925 2046,3940 2039,3955 1941,3955 1934,3940"/><text class="t cg" x="1940" y="3944.5">6：群内严重禁止</text></g>
<g id="g4"><polygon class="pg" points="1941,3982.5 2197,3982.5 2204,4006 2197,4029.5 1941,4029.5 1934,4006"/><text class="t cg" y="4002"><tspan x="1940">①禁止出现不良政治倾向、宗教、色情、暴力</tspan><tspan x="1940" dy="17">等内容，一经发现，严肃处理！</tspan></text></g>
<g id="g5"><polygon class="pg" points="1941,4058 2084,4058 2091,4073 2084,4088 1941,4088 1934,4073"/><text class="t cg" x="1940" y="4077.5">②禁止在群内发布广告。</text></g>
<g id="g6"><polygon class="pg" points="1941,4115 2197,4115 2204,4147 2197,4179 1941,4179 1934,4147"/><text class="t cg" y="4134.5"><tspan x="1940">③禁止出现有违社会公德、不文明、公然侮辱</tspan><tspan x="1940" dy="17">他人或者捏造事实诽谤他人的，或者进行其他</tspan><tspan x="1940" dy="17">恶意攻击的；</tspan></text></g>
<g id="g7"><polygon class="pg" points="1941,4207 2188,4207 2195,4222 2188,4237 1941,4237 1934,4222"/><text class="t cg" x="1940" y="4226.5">④禁止诋毁联盟、联盟各部门及员工形象。</text></g>
<g id="g8"><polygon class="pg" points="2225,4207 2485,4207 2492,4222 2485,4237 2225,4237 2218,4222"/><text class="t cg" x="2224" y="4226.5">以上，请各位联盟成员多提建议，监督指正。</text></g>
</g>
</svg>
